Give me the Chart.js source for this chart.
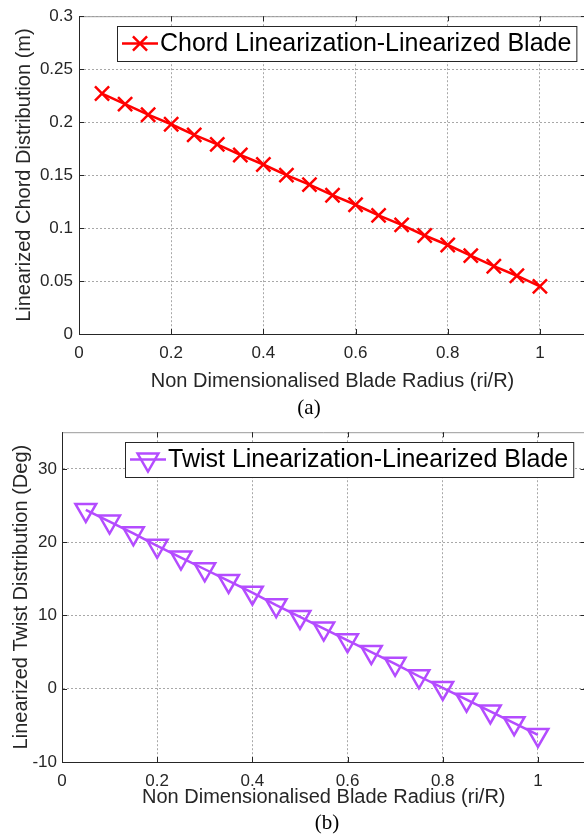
<!DOCTYPE html>
<html>
<head>
<meta charset="utf-8">
<script src="https://cdn.jsdelivr.net/npm/chart.js@4.4.1/dist/chart.umd.min.js"></script>
<style>
  html, body { margin: 0; padding: 0; background: #fff; width: 584px; height: 834px; overflow: hidden; position: relative; }
  canvas { position: absolute; left: 0; }
  #chordCanvas { top: 0; }
  #twistCanvas { top: 417px; }
  .caption { position: absolute; font-family: "Liberation Serif", "Times New Roman", serif; font-size: 21px; color: #000; transform: translateX(-50%); }
</style>
</head>
<body>
<canvas id="chordCanvas" width="600" height="395"></canvas>
<canvas id="twistCanvas" width="600" height="395"></canvas>
<div class="caption" style="left:309px; top:395px;">(a)</div>
<div class="caption" style="left:327px; top:810px;">(b)</div>
<script>
// Data
const radius = [0.05, 0.1, 0.15, 0.2, 0.25, 0.3, 0.35, 0.4, 0.45, 0.5,
                0.55, 0.6, 0.65, 0.7, 0.75, 0.8, 0.85, 0.9, 0.95, 1.0];
const chord = [0.227, 0.217, 0.207, 0.198, 0.188, 0.179, 0.169, 0.160, 0.150, 0.141,
               0.131, 0.122, 0.112, 0.103, 0.093, 0.084, 0.074, 0.064, 0.055, 0.045];
const twist = [24.4, 22.8, 21.2, 19.5, 17.9, 16.3, 14.7, 13.1, 11.4, 9.8,
               8.2, 6.6, 5.0, 3.4, 1.7, 0.1, -1.5, -3.1, -4.7, -6.3];

const xTicks = [0, 0.2, 0.4, 0.6, 0.8, 1];
const chordTicks = [0, 0.05, 0.1, 0.15, 0.2, 0.25, 0.3];
const twistTicks = [-10, 0, 10, 20, 30];

const FONT = '"Liberation Sans", Arial, sans-serif';
const TEXT = '#262626';

// MATLAB-like box, inward tick marks and legend
const matlabFrame = {
  id: 'matlabFrame',
  afterDraw(chart, args, opts) {
    const { ctx, chartArea: a, scales } = chart;
    ctx.save();
    ctx.lineWidth = 1;
    ctx.strokeStyle = '#9a9a9a';
    ctx.beginPath();
    ctx.moveTo(a.left, a.top + 0.5); ctx.lineTo(a.right, a.top + 0.5);
    ctx.moveTo(a.right - 0.5, a.top); ctx.lineTo(a.right - 0.5, a.bottom);
    ctx.stroke();

    ctx.strokeStyle = TEXT;
    ctx.beginPath();
    scales.x.ticks.forEach(t => {
      const px = Math.round(scales.x.getPixelForValue(t.value)) + 0.5;
      ctx.moveTo(px, a.bottom); ctx.lineTo(px, a.bottom - 5);
      ctx.moveTo(px, a.top); ctx.lineTo(px, a.top + 5);
    });
    scales.y.ticks.forEach(t => {
      const py = Math.round(scales.y.getPixelForValue(t.value)) + 0.5;
      ctx.moveTo(a.left, py); ctx.lineTo(a.left + 5, py);
      ctx.moveTo(a.right, py); ctx.lineTo(a.right - 5, py);
    });
    ctx.stroke();

    // legend box
    const ds = chart.data.datasets[0];
    ctx.font = '25px ' + FONT;
    const tw = ctx.measureText(ds.label).width;
    const w = 5 + 36 + 2 + tw + 5;
    const h = 35;
    const x0 = Math.round(a.right - opts.right - w);
    const y0 = Math.round(a.top + opts.top);
    ctx.fillStyle = '#fff';
    ctx.fillRect(x0, y0, w, h);
    ctx.strokeStyle = TEXT;
    ctx.lineWidth = 1;
    ctx.strokeRect(x0 + 0.5, y0 + 0.5, w, h);
    const ly = y0 + h / 2;
    ctx.strokeStyle = ds.borderColor;
    ctx.lineWidth = ds.borderWidth;
    ctx.beginPath();
    ctx.moveTo(x0 + 5, ly); ctx.lineTo(x0 + 41, ly);
    ctx.stroke();
    ctx.lineWidth = ds.pointBorderWidth;
    ctx.fillStyle = 'rgba(0,0,0,0)';
    Chart.helpers.drawPoint(ctx, {
      pointStyle: ds.pointStyle, rotation: ds.pointRotation || 0,
      radius: ds.pointRadius, borderWidth: ds.pointBorderWidth
    }, x0 + 23, ly);
    ctx.fillStyle = '#000';
    ctx.textBaseline = 'middle';
    ctx.textAlign = 'left';
    ctx.fillText(ds.label, x0 + 43, ly + 1);
    ctx.restore();
  }
};

function makeChart(id, cfg) {
  return new Chart(document.getElementById(id), {
    type: 'line',
    data: {
      datasets: [{
        label: cfg.label,
        data: radius.map((r, i) => ({ x: r, y: cfg.values[i] })),
        borderColor: cfg.color,
        borderWidth: 2.5,
        pointStyle: cfg.pointStyle,
        pointRotation: cfg.rotation,
        pointRadius: cfg.pointRadius,
        pointBorderWidth: 2.5,
        pointBorderColor: cfg.color,
        pointBackgroundColor: 'rgba(0,0,0,0)',
        tension: 0
      }]
    },
    options: {
      responsive: false,
      animation: false,
      layout: { padding: { top: 15, right: 14, bottom: cfg.padBottom, left: 0 } },
      plugins: {
        legend: { display: false },
        tooltip: { enabled: false },
        matlabFrame: cfg.legendPos
      },
      scales: {
        x: {
          type: 'linear',
          min: 0, max: 1.1,
          afterBuildTicks: s => { s.ticks = xTicks.map(v => ({ value: v })); },
          afterFit: s => { s.height = cfg.xHeight; },
          ticks: { callback: v => String(v), color: TEXT, font: { family: FONT, size: 17 }, padding: cfg.xPad, maxRotation: 0 },
          grid: { color: '#a8a8a8', drawTicks: false },
          border: { color: TEXT, width: 1, dash: [2, 2] },
          title: { display: true, text: 'Non Dimensionalised Blade Radius (ri/R)', color: TEXT, font: { family: FONT, size: 20 }, padding: { top: 0, bottom: 0 } }
        },
        y: {
          min: cfg.yMin, max: cfg.yMax,
          afterBuildTicks: s => { s.ticks = cfg.yTicks.map(v => ({ value: v })); },
          afterFit: s => { s.width = cfg.yWidth; },
          ticks: { callback: v => String(v), color: TEXT, font: { family: FONT, size: 17 }, padding: cfg.yPad },
          grid: { color: '#a8a8a8', drawTicks: false },
          border: { color: TEXT, width: 1, dash: [2, 2] },
          title: { display: true, text: cfg.yTitle, color: TEXT, font: { family: FONT, size: 20 }, padding: { top: cfg.yTitlePad, bottom: 0 } }
        }
      }
    },
    plugins: [matlabFrame]
  });
}

makeChart('chordCanvas', {
  label: 'Chord Linearization-Linearized Blade',
  values: chord,
  color: '#ff0000',
  pointStyle: 'crossRot',
  rotation: 0,
  pointRadius: 10,
  yMin: 0, yMax: 0.3, yTicks: chordTicks,
  yTitle: 'Linearized Chord Distribution (m)',
  yWidth: 79, yPad: 6, yTitlePad: 12,
  xHeight: 59, xPad: 9, padBottom: 2,
  legendPos: { right: 10, top: 10 }
});

makeChart('twistCanvas', {
  label: 'Twist Linearization-Linearized Blade',
  values: twist,
  color: '#b44cff',
  pointStyle: 'triangle',
  rotation: 180,
  pointRadius: 12,
  yMin: -10, yMax: 35, yTicks: twistTicks,
  yTitle: 'Linearized Twist Distribution (Deg)',
  yWidth: 62, yPad: 5, yTitlePad: 9,
  xHeight: 47, xPad: 9, padBottom: 3,
  legendPos: { right: 12, top: 10 }
});
</script>
</body>
</html>
